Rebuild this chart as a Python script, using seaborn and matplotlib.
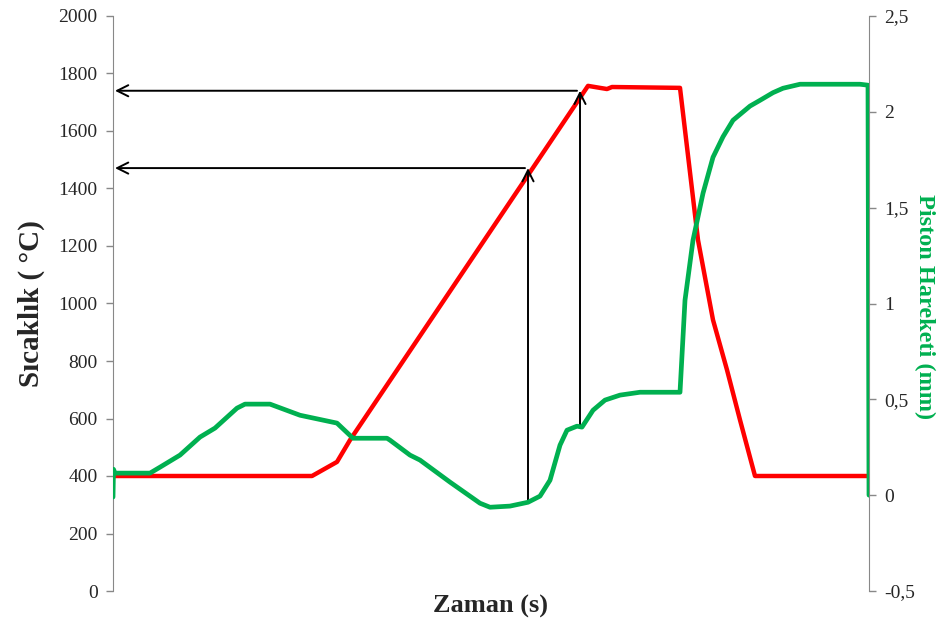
import matplotlib
matplotlib.use("Agg")
import matplotlib.pyplot as plt
import seaborn as sns
import pandas as pd

# Temperature profile (time in s, temperature in °C)
temp_time = [0, 199, 224, 237, 475, 487, 494, 499, 567, 585, 600, 614, 627, 642, 756]
temp_vals = [400, 400, 449, 525, 1757, 1750, 1746, 1753, 1750, 1221, 943, 769, 595, 400, 400]

# Piston displacement (time in s, displacement in mm)
pist_time = [0, 0.5, 2, 37, 47, 67, 87, 102, 124, 132, 157, 187, 224, 240, 274, 277,
             297, 307, 337, 367, 377, 397, 415, 427, 437, 447, 454, 464, 469, 480,
             492, 507, 527, 567, 572, 580, 590, 600, 610, 620, 637, 647, 660, 670, 687, 747,
             755, 756]
pist_vals = [-0.01, 0.135, 0.115, 0.115, 0.146, 0.209, 0.303, 0.350, 0.454, 0.475,
             0.475, 0.417, 0.376, 0.297, 0.297, 0.287, 0.209, 0.183, 0.068, -0.042,
             -0.063, -0.057, -0.037, -0.005, 0.078, 0.261, 0.339, 0.360, 0.355, 0.443,
             0.496, 0.522, 0.537, 0.537, 1.017, 1.330, 1.575, 1.763, 1.87, 1.956, 2.03,
             2.06, 2.10, 2.123, 2.144, 2.144, 2.139, 0.0]

# Marker arrows: (time, start temperature on the piston curve, temperature reached)
arrow_time = [415, 467]
arrow_start = [306, 577]
arrow_temp = [1471, 1740]

left_ticks = list(range(0, 2001, 200))
right_ticks = [-0.5, 0, 0.5, 1, 1.5, 2, 2.5]
right_labels = ["-0,5", "0", "0,5", "1", "1,5", "2", "2,5"]

sns.set_style("white")
plt.rcParams["font.family"] = ["Liberation Serif", "DejaVu Serif"]

RED = "#FF0000"
GREEN = "#00B050"
GRAY = "#888888"

fig = plt.figure(figsize=(9.44, 6.25), dpi=100)
ax = fig.add_axes([113 / 944, 1 - 591 / 625, 756 / 944, 575 / 625])
ax2 = ax.twinx()

df_t = pd.DataFrame({"t": temp_time, "T": temp_vals})
df_p = pd.DataFrame({"t": pist_time, "p": pist_vals})

sns.lineplot(data=df_t, x="t", y="T", ax=ax, color=RED, lw=3.2, sort=False,
             estimator=None, zorder=3)
sns.lineplot(data=df_p, x="t", y="p", ax=ax2, color=GREEN, lw=3.4, sort=False,
             estimator=None, zorder=3)

ax.set_xlim(0, 756)
ax.set_ylim(0, 2000)
ax2.set_ylim(-0.5, 2.5)

for t, y0, y1 in zip(arrow_time, arrow_start, arrow_temp):
    ax.annotate("", xy=(t, y1), xytext=(t, y0),
                arrowprops=dict(arrowstyle="->", color="black", lw=1.4,
                                mutation_scale=20, shrinkA=0, shrinkB=0))
    ax.annotate("", xy=(2, y1), xytext=(t - 3, y1),
                arrowprops=dict(arrowstyle="->", color="black", lw=1.4,
                                mutation_scale=20, shrinkA=0, shrinkB=0))

ax.set_xticks([])
ax.set_yticks(left_ticks)
ax.set_yticklabels([str(v) for v in left_ticks], fontsize=14)
ax2.set_yticks(right_ticks)
ax2.set_yticklabels(right_labels, fontsize=14)

for a in (ax, ax2):
    for s in ("top", "bottom"):
        a.spines[s].set_visible(False)
    a.tick_params(axis="y", length=5, width=1, color=GRAY, pad=6)
ax.spines["left"].set_color(GRAY)
ax.spines["right"].set_visible(False)
ax2.spines["left"].set_visible(False)
ax2.spines["right"].set_color(GRAY)

ax.set_xlabel("Zaman (s)", fontsize=19, fontweight="bold", labelpad=3)
ax.set_ylabel("Sıcaklık ( °C)", fontsize=21, fontweight="bold", labelpad=10)
ax2.set_ylabel("Piston Hareketi (mm)", fontsize=17.5, fontweight="bold",
               color=GREEN, rotation=270, va="center", ha="center")
ax2.yaxis.set_label_coords(1.074, 0.495)

fig.savefig("out.png", dpi=100)
